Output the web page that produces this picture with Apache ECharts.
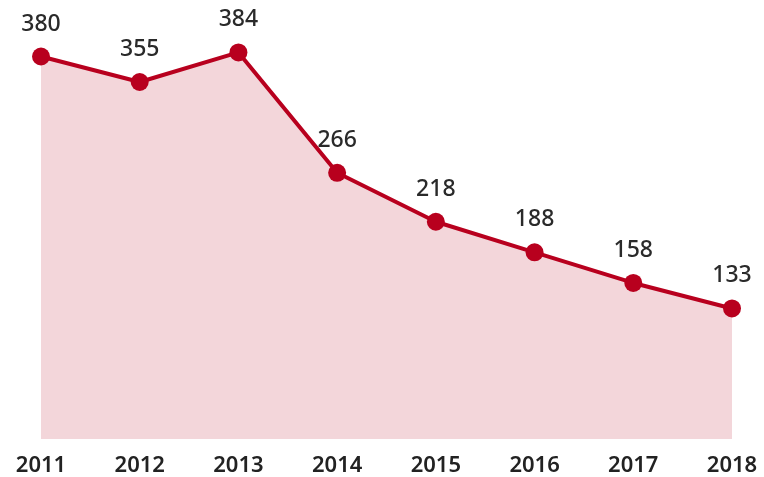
<!DOCTYPE html>
<html>
<head>
<meta charset="utf-8">
<script src="https://cdn.jsdelivr.net/npm/echarts@6/dist/echarts.min.js"></script>
<style>
  html, body { margin: 0; padding: 0; background: #fff; }
  #chart { width: 764px; height: 477px; }
</style>
</head>
<body>
<div id="chart"></div>
<script>
  // 年份和数值
  var years = ['2011', '2012', '2013', '2014', '2015', '2016', '2017', '2018'];
  var values = [380, 355, 384, 266, 218, 188, 158, 133];

  var chart = echarts.init(document.getElementById('chart'));
  var option = {
    animation: false,
    grid: {
      left: 41,
      right: 32,
      top: 31,
      bottom: 38
    },
    xAxis: {
      type: 'category',
      boundaryGap: false,
      data: years,
      axisLine: { show: false },
      axisTick: { show: false },
      axisLabel: {
        color: '#222',
        fontSize: 22,
        fontWeight: 600,
        fontFamily: 'Noto Sans',
        margin: 16
      }
    },
    yAxis: {
      type: 'value',
      min: 5,
      max: 405,
      show: false,
      splitLine: { show: false }
    },
    series: [{
      type: 'line',
      data: values,
      symbol: 'circle',
      symbolSize: 18,
      lineStyle: { color: '#b8001e', width: 4 },
      itemStyle: { color: '#b8001e' },
      areaStyle: { color: '#f3d6da', opacity: 1 },
      label: {
        show: true,
        position: 'top',
        distance: 12,
        color: '#2a2a2a',
        fontSize: 23,
        fontWeight: 500,
        fontFamily: 'Noto Sans'
      }
    }]
  };
  chart.setOption(option);
</script>
</body>
</html>
